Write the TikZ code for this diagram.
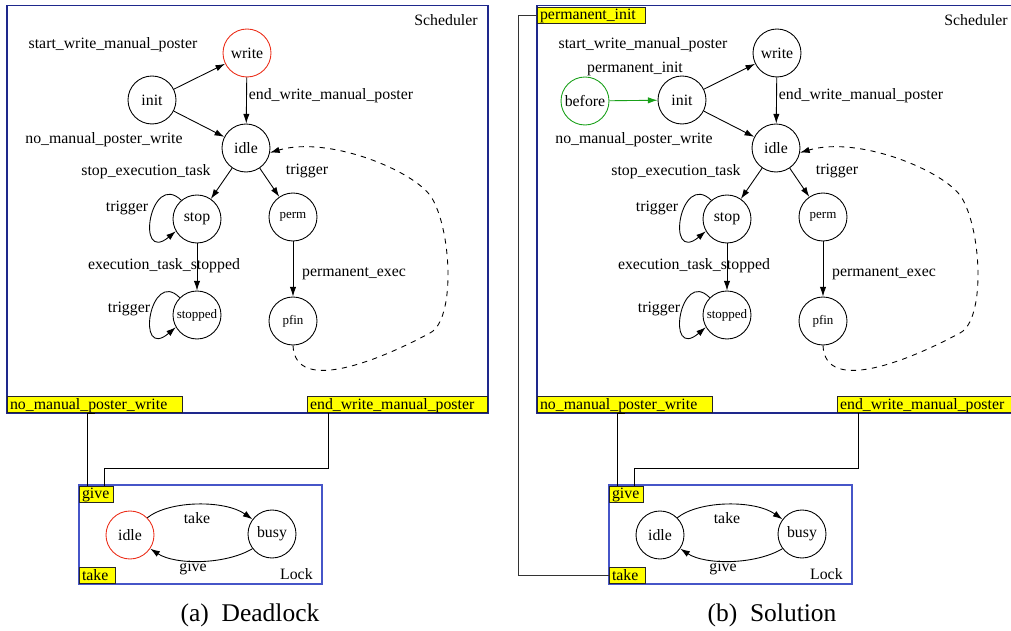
\documentclass[tikz,border=0pt]{standalone}
\usepackage{fontspec}
\setmainfont{Liberation Serif}
\usetikzlibrary{arrows.meta,calc}
\definecolor{schedblue}{RGB}{30,40,140}
\definecolor{lockblue}{RGB}{70,85,200}
\definecolor{stred}{RGB}{235,45,25}
\definecolor{stgreen}{RGB}{25,160,25}
\definecolor{portyellow}{RGB}{255,255,0}
\tikzset{
  state/.style={circle, draw, line width=0.5pt, minimum size=0.96cm, inner sep=0pt},
  small/.style={font=\fontsize{7.4}{8}\selectfont},
  lbl/.style={inner sep=0pt},
  arr/.style={-{Latex[length=5.5pt,width=3.6pt]}, line width=0.5pt},
  port/.style={draw=black!85, fill=portyellow, line width=0.5pt, inner xsep=1.5pt,
    inner ysep=0pt, text height=7pt, text depth=2pt, align=left},
  wire/.style={line width=0.5pt},
  box/.style={line width=0.7pt},
}

\begin{document}
\begin{tikzpicture}[x=0.02cm, y=-0.02cm, font=\fontsize{9}{10.5}\selectfont]
  \useasboundingbox (0,0) rectangle (1011,631);

  % both panels, the second shifted right
  \foreach \p/\dx/\hot in {a/0/stred, b/530/black} {
    \begin{scope}[shift={(\dx,0)}]
      % Scheduler
      \draw[box, schedblue] (7,5.5) rectangle (488,413);
      \node[lbl, anchor=east] (\p-sched) at (478,20) {Scheduler};

      \node[state, draw=\hot] (\p-write) at (247,53) {write};
      \node[state] (\p-init) at (152,100) {init};
      \node[state] (\p-idle) at (246,148) {idle};
      \node[state] (\p-stop) at (197,219) {stop};
      \node[state, small] (\p-perm) at (293,217) {perm};
      \node[state, small] (\p-stopped) at (197,315) {stopped};
      \node[state, small] (\p-pfin) at (293,321) {pfin};

      \draw[arr] (\p-init) -- (\p-write);
      \draw[arr] (\p-write) -- (\p-idle);
      \draw[arr] (\p-init) -- (\p-idle);
      \draw[arr] (\p-idle) -- (\p-stop);
      \draw[arr] (\p-idle) -- (\p-perm);
      \draw[arr] (\p-stop) -- (\p-stopped);
      \draw[arr] (\p-perm) -- (\p-pfin);
      \draw[arr] (\p-stop.130) .. controls (150,170) and (135,265) .. (\p-stop.210);
      \draw[arr] (\p-stopped.135) .. controls (150,267) and (135,362) .. (\p-stopped.210);
      \draw[arr, dashed] (\p-pfin.south) .. controls (295,395) and (380,360) .. (430,333)
        .. controls (455,320) and (452,235) .. (433,200)
        .. controls (420,173) and (330,135) .. (\p-idle.-11);

      \node[lbl] (\p-l1) at (113,45) {start\_write\_manual\_poster};
      \node[lbl] (\p-l2) at (331,96) {end\_write\_manual\_poster};
      \node[lbl] (\p-l3) at (104,140) {no\_manual\_poster\_write};
      \node[lbl] (\p-l4) at (146,172) {stop\_execution\_task};
      \node[lbl] (\p-l5) at (307,171) {trigger};
      \node[lbl] (\p-l6) at (127,208) {trigger};
      \node[lbl] (\p-l7) at (164,266) {execution\_task\_stopped};
      \node[lbl] (\p-l8) at (129,309) {trigger};
      \node[lbl] (\p-l9) at (354,274) {permanent\_exec};

      % Lock
      \draw[box, lockblue] (79,485) rectangle (322,584);
      \node[lbl, anchor=east] (\p-lock) at (313,574) {Lock};
      \node[state, draw=\hot] (\p-lidle) at (130,535) {idle};
      \node[state] (\p-busy) at (272,534) {busy};
      \draw[arr] (\p-lidle.45) .. controls (170,500) and (225,500) .. (\p-busy.143);
      \draw[arr] (\p-busy.217) .. controls (225,565) and (175,565) .. (\p-lidle.-34);
      \node[lbl] (\p-ltake) at (197,518) {take};
      \node[lbl] (\p-lgive) at (193,568) {give};

      % ports
      \node[port, text width=96.8pt, anchor=south west] (\p-nmpw) at (7,413) {no\_manual\_poster\_write};
      \node[port, text width=99.6pt, anchor=south west] (\p-ewmp) at (307,413) {end\_write\_manual\_poster};
      \node[port, text width=16.3pt, anchor=north west] (\p-give) at (79,486) {give};
      \node[port, text width=17.4pt, anchor=south west] (\p-take) at (79,584) {take};

      \draw[wire] (\p-give.north west) ++(8,0) |- (\p-nmpw.south);
      \draw[wire] ($(\p-ewmp.south west)+(21,0)$) -- ++(0,55) -| ($(\p-give.north west)+(25,0)$);
    \end{scope}
  }

  % extra parts of the solution
  \node[state, draw=stgreen] (b-before) at (585,101) {before};
  \node[lbl] (b-lpinit) at (635,69) {permanent\_init};
  \draw[arr, stgreen] (b-before) -- (b-init);
  \node[port, text width=58.2pt, anchor=north west] (b-pinit) at (537,7) {permanent\_init};
  \draw[wire, black!80] (b-pinit.west) -- ++(-19,0) |- (b-take.west);

  \node[font=\fontsize{14.5}{16}\selectfont] (capa) at (250,615) {(a)\enspace Deadlock};
  \node[font=\fontsize{14.5}{16}\selectfont] (capb) at (772,615) {(b)\enspace Solution};
\end{tikzpicture}
\end{document}
